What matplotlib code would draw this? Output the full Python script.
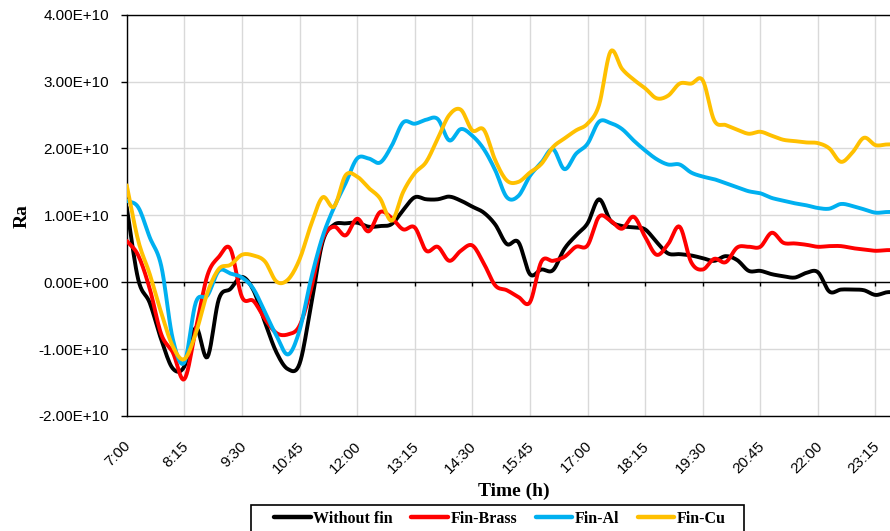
import matplotlib
matplotlib.use('Agg')
import matplotlib.pyplot as plt
from matplotlib.patches import Rectangle
from matplotlib.transforms import ScaledTranslation
from matplotlib.ticker import FuncFormatter
import numpy as np

# readings every 15 minutes from 7:00 to 23:45, Ra in units of 1e10
time_h = 7.0 + 0.25 * np.arange(68)

without_fin = [1.12, 0.04, -0.31, -0.86, -1.29, -1.26, -0.68, -1.12, -0.25, -0.10,
               0.08, -0.12, -0.60, -1.05, -1.30, -1.22, -0.35, 0.60, 0.86, 0.88,
               0.89, 0.83, 0.84, 0.87, 1.08, 1.27, 1.24, 1.24, 1.28, 1.22,
               1.13, 1.04, 0.86, 0.57, 0.60, 0.12, 0.19, 0.18, 0.50, 0.70,
               0.88, 1.24, 0.92, 0.84, 0.82, 0.79, 0.60, 0.43, 0.42, 0.40,
               0.36, 0.32, 0.39, 0.33, 0.17, 0.17, 0.12, 0.09, 0.07, 0.14,
               0.15, -0.14, -0.11, -0.11, -0.12, -0.19, -0.15, -0.15]

fin_brass = [0.62, 0.40, -0.10, -0.78, -1.05, -1.45, -0.70, 0.10, 0.38, 0.50,
             -0.22, -0.28, -0.55, -0.76, -0.78, -0.65, -0.10, 0.64, 0.83, 0.70,
             0.95, 0.76, 1.05, 0.96, 0.79, 0.82, 0.47, 0.53, 0.32, 0.47,
             0.55, 0.28, -0.05, -0.12, -0.22, -0.30, 0.31, 0.32, 0.38, 0.53,
             0.55, 0.98, 0.92, 0.80, 0.98, 0.68, 0.41, 0.57, 0.83, 0.30,
             0.19, 0.35, 0.30, 0.52, 0.53, 0.53, 0.74, 0.59, 0.58, 0.56,
             0.53, 0.54, 0.54, 0.51, 0.49, 0.47, 0.48, 0.48]

fin_al = [1.22, 1.12, 0.67, 0.24, -0.85, -1.20, -0.30, -0.20, 0.17, 0.13,
          0.07, -0.10, -0.45, -0.80, -1.08, -0.72, 0.05, 0.68, 1.12, 1.48,
          1.85, 1.85, 1.79, 2.04, 2.39, 2.37, 2.43, 2.44, 2.12, 2.29,
          2.19, 1.99, 1.67, 1.27, 1.29, 1.59, 1.79, 1.99, 1.69, 1.92,
          2.07, 2.40, 2.38, 2.29, 2.12, 1.97, 1.84, 1.76, 1.76, 1.64,
          1.58, 1.54, 1.48, 1.42, 1.36, 1.33, 1.26, 1.22, 1.18, 1.15,
          1.11, 1.10, 1.17, 1.14, 1.09, 1.04, 1.05, 1.05]

fin_cu = [1.45, 0.62, 0.12, -0.46, -0.96, -1.15, -0.76, -0.16, 0.20, 0.26,
          0.41, 0.40, 0.31, 0.01, 0.04, 0.34, 0.86, 1.27, 1.13, 1.60,
          1.58, 1.41, 1.25, 0.92, 1.35, 1.63, 1.80, 2.15, 2.50, 2.58,
          2.27, 2.28, 1.82, 1.52, 1.50, 1.64, 1.77, 2.02, 2.15, 2.27,
          2.37, 2.65, 3.45, 3.19, 3.03, 2.90, 2.75, 2.79, 2.97, 2.97,
          3.02, 2.42, 2.35, 2.28, 2.22, 2.25, 2.19, 2.13, 2.11, 2.09,
          2.08, 2.00, 1.80, 1.94, 2.16, 2.05, 2.06, 2.06]

series_names = ['Without fin', 'Fin-Brass', 'Fin-Al', 'Fin-Cu']
series_colors = ['#000000', '#ff0000', '#00b0f0', '#ffc000']

tick_hours = [7.0, 8.25, 9.5, 10.75, 12.0, 13.25, 14.5, 15.75, 17.0, 18.25,
              19.5, 20.75, 22.0, 23.25]
tick_labels = ['7:00', '8:15', '9:30', '10:45', '12:00', '13:15', '14:30',
               '15:45', '17:00', '18:15', '19:30', '20:45', '22:00', '23:15']
y_ticks = [-2e10, -1e10, 0, 1e10, 2e10, 3e10, 4e10]


def smooth(x, y, steps=10):
    """Catmull-Rom curve through the points, like a smoothed spreadsheet line."""
    x = np.asarray(x, float)
    y = np.asarray(y, float)
    xp = np.concatenate([[2 * x[0] - x[1]], x, [2 * x[-1] - x[-2]]])
    yp = np.concatenate([[2 * y[0] - y[1]], y, [2 * y[-1] - y[-2]]])
    xs, ys = [], []
    t = np.linspace(0, 1, steps, endpoint=False)
    h00 = 2 * t**3 - 3 * t**2 + 1
    h10 = t**3 - 2 * t**2 + t
    h01 = -2 * t**3 + 3 * t**2
    h11 = t**3 - t**2
    for i in range(1, len(xp) - 2):
        mx0 = (xp[i + 1] - xp[i - 1]) / 2
        mx1 = (xp[i + 2] - xp[i]) / 2
        my0 = (yp[i + 1] - yp[i - 1]) / 2
        my1 = (yp[i + 2] - yp[i]) / 2
        xs.append(h00 * xp[i] + h10 * mx0 + h01 * xp[i + 1] + h11 * mx1)
        ys.append(h00 * yp[i] + h10 * my0 + h01 * yp[i + 1] + h11 * my1)
    xs.append([x[-1]])
    ys.append([y[-1]])
    return np.concatenate(xs), np.concatenate(ys)


fig = plt.figure(figsize=(8.9, 5.31), dpi=100)
fig.patch.set_facecolor('white')
ax = fig.add_axes([0.1424, 0.2166, 0.8576, 0.7557])

for vals, name, color in zip([without_fin, fin_brass, fin_al, fin_cu],
                             series_names, series_colors):
    sx, sy = smooth(time_h, np.array(vals) * 1e10)
    ax.plot(sx, sy, color=color, lw=2.8, label=name, solid_capstyle='round',
            solid_joinstyle='round', zorder=3)

ax.set_xlim(7.0, 23.565)
ax.set_ylim(-2e10, 4e10)
ax.set_xticks(tick_hours)
ax.set_xticklabels(tick_labels)
ax.set_yticks(y_ticks)
ax.yaxis.set_major_formatter(FuncFormatter(lambda v, p: '%.2E' % v))

ax.grid(True, color='#d9d9d9', lw=1.0, zorder=0)
ax.set_axisbelow(True)
for side in ['left', 'bottom', 'top']:
    ax.spines[side].set_color('#000000')
    ax.spines[side].set_linewidth(1.0)
ax.spines['right'].set_visible(False)

# category axis crosses at zero, with its tick marks hanging below
ax.axhline(0, color='#000000', lw=1.0, zorder=2)
ax.vlines(tick_hours[1:], -0.06e10, 0, color='#000000', lw=1.0, zorder=2)

ax.tick_params(axis='y', direction='out', length=4, width=1, color='#000000',
               labelsize=11, pad=8.5, labelcolor='#000000')
ax.tick_params(axis='x', length=0, labelsize=11, pad=20, labelcolor='#000000')
for lbl in ax.get_yticklabels():
    lbl.set_family('Liberation Sans')
for lbl in ax.get_xticklabels():
    lbl.set_family('Liberation Sans')
    lbl.set_rotation(45)
    lbl.set_ha('right')
    lbl.set_va('center')
    lbl.set_rotation_mode('anchor')
    lbl.set_transform(lbl.get_transform() +
                      ScaledTranslation(2 / 100, 0, fig.dpi_scale_trans))

ax.set_xlabel('Time (h)', fontsize=14, fontweight='bold', family='Liberation Serif',
              va='center')
ax.xaxis.set_label_coords(0.5065, -0.187)
ax.set_ylabel('Ra', fontsize=14, fontweight='bold', family='Liberation Serif',
              va='center', ha='center')
ax.yaxis.set_label_coords(-0.137, 0.498)

leg = fig.legend(loc='center', bbox_to_anchor=(500 / 890, 1 - 519 / 531), ncol=4,
                 frameon=False, handlelength=2.3, handletextpad=0.15,
                 columnspacing=1.15,
                 prop={'family': 'Liberation Serif', 'weight': 'bold', 'size': 11.5})
for line in leg.get_lines():
    line.set_linewidth(3.2)
fig.patches.append(Rectangle((250.7 / 890, 1 - 540 / 531), (744 - 250.7) / 890,
                             35 / 531, transform=fig.transFigure, fill=False,
                             edgecolor='#000000', lw=1.2))

fig.savefig('out.png', dpi=100, facecolor='white')
